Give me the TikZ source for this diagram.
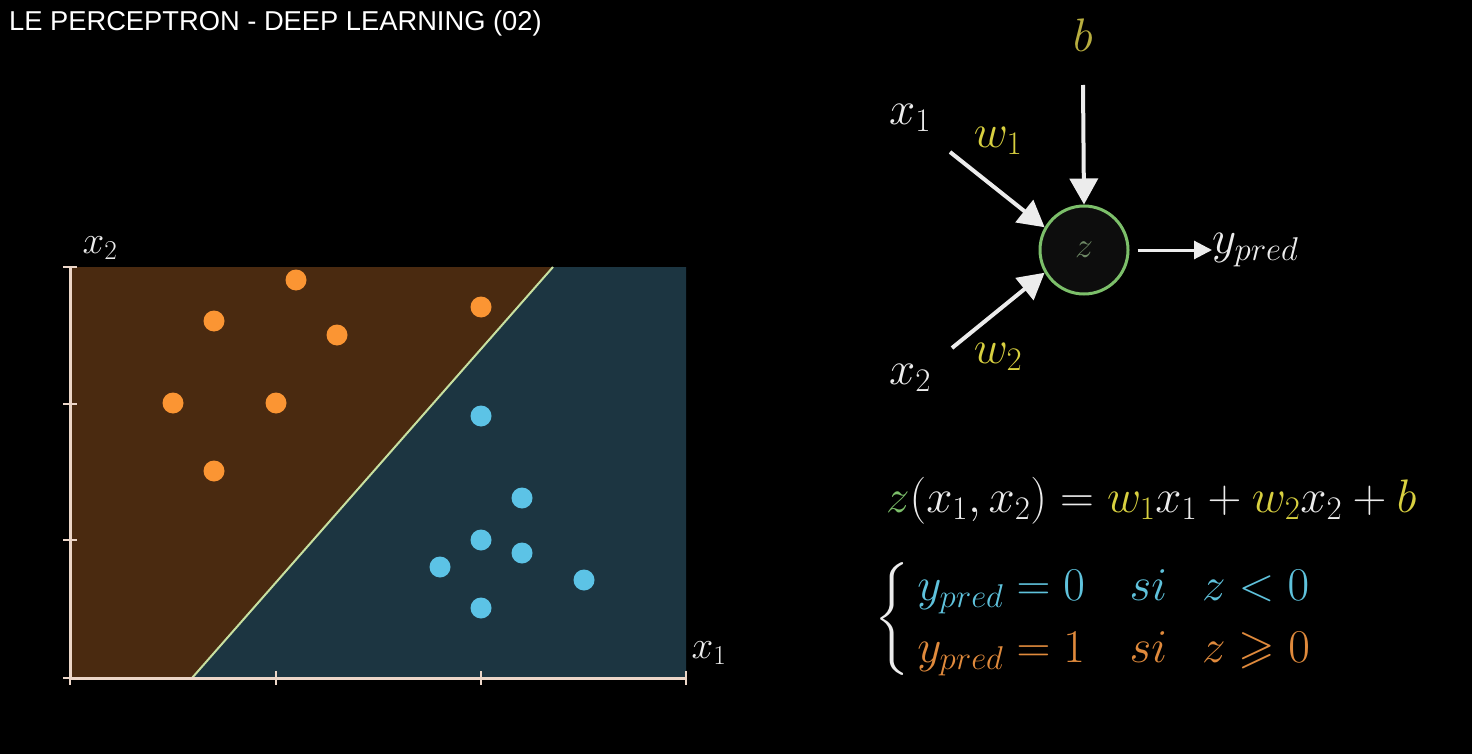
\RequirePackage{fix-cm}
\documentclass[tikz,border=0pt]{standalone}
\usepackage{amsmath,amssymb}
\usepackage{fontspec}
\setmainfont{Liberation Sans}
\usetikzlibrary{arrows.meta}
\definecolor{bg}{HTML}{000000}
\definecolor{offw}{HTML}{ECECEC}
\definecolor{ofill}{HTML}{4A2A10}
\definecolor{bfill}{HTML}{1C3541}
\definecolor{odot}{HTML}{FB9533}
\definecolor{bdot}{HTML}{5CC3E6}
\definecolor{axc}{HTML}{ECD6C8}
\definecolor{sepc}{HTML}{C8E0A0}
\definecolor{wyel}{HTML}{D8D040}
\definecolor{byel}{HTML}{B8AE40}
\definecolor{zgreen}{HTML}{7CBF6A}
\definecolor{zdim}{HTML}{6F8A66}
\definecolor{cblue}{HTML}{5FC2DC}
\definecolor{corange}{HTML}{E08A3C}
\tikzset{
  odotn/.style={circle,fill=odot,inner sep=0pt,minimum size=21pt},
  bdotn/.style={circle,fill=bdot,inner sep=0pt,minimum size=21pt},
  axis/.style={draw=axc,line width=3pt},
  tick/.style={draw=axc,line width=2.5pt},
  warrow/.style={draw=offw,line width=4pt,-{Triangle[length=26pt,width=28pt]}},
  mathlbl/.style={text=offw,font=\fontsize{47}{56}\selectfont,inner sep=0pt},
  plotlbl/.style={text=offw,font=\fontsize{39}{46}\selectfont,inner sep=0pt},
}
\begin{document}
\begin{tikzpicture}[x=1pt,y=-1pt]
\fill[bg] (0,0) rectangle (1472,754);
\useasboundingbox (0,0) rectangle (1472,754);
% title
\node[anchor=west,text=white,font=\fontsize{27.3}{32}\selectfont,inner sep=0pt] (title) at (9,23) {LE PERCEPTRON - DEEP LEARNING (02)};
% plot regions
\coordinate (bl) at (70,678);
\coordinate (tl) at (70,267);
\coordinate (tr) at (686,267);
\coordinate (br) at (686,678);
\coordinate (s1) at (192,678);
\coordinate (s2) at (553,267);
\fill[ofill] (bl) -- (tl) -- (s2) -- (s1) -- cycle;
\fill[bfill] (s1) -- (s2) -- (tr) -- (br) -- cycle;
\draw[sepc,line width=2pt] (s1) -- (s2);
% axes
\draw[axis] (tl) -- (bl) -- (br);
\foreach \y in {267,404,540,678} \draw[tick] (63,\y) -- (77,\y);
\foreach \x in {70,276,481,686} \draw[tick] (\x,671) -- (\x,685);
\node[plotlbl] (lx2) at (100,248) {$x_2$};
\node[plotlbl] (lx1) at (709,653) {$x_1$};
% dots
\node[odotn] (o1) at (296,280) {};
\node[odotn] (o2) at (214,321) {};
\node[odotn] (o3) at (337,335) {};
\node[odotn] (o4) at (481,307) {};
\node[odotn] (o5) at (173,403) {};
\node[odotn] (o6) at (276,403) {};
\node[odotn] (o7) at (214,471) {};
\node[bdotn] (b1) at (481,416) {};
\node[bdotn] (b2) at (522,498) {};
\node[bdotn] (b3) at (481,540) {};
\node[bdotn] (b4) at (522,553) {};
\node[bdotn] (b5) at (440,567) {};
\node[bdotn] (b6) at (584,580) {};
\node[bdotn] (b7) at (481,608) {};
% perceptron
\node[circle,draw=zgreen,line width=3pt,fill=black!95!white,minimum size=88pt,inner sep=0pt,text=zdim,font=\fontsize{36}{42}\selectfont] (z) at (1084,250) {$z$};
\node[mathlbl] (x1) at (910,118) {$x_1$};
\node[mathlbl] (x2) at (910,378) {$x_2$};
\node[mathlbl,text=byel] (b) at (1083,35) {$b$};
\node[mathlbl,text=wyel] (w1) at (998,141) {$w_1$};
\node[mathlbl,text=wyel] (w2) at (998,357) {$w_2$};
\node[mathlbl,anchor=west] (yp) at (1212,250) {$y_{pred}$};
\coordinate (a1s) at (950,152);
\coordinate (a2s) at (952,348);
\coordinate (abs) at (1083,85);
\draw[warrow] (a1s) -- (z.150);
\draw[warrow] (a2s) -- (z.210);
\draw[warrow] (abs) -- (z.north);
\draw[warrow,line width=3pt,-{Triangle[length=18pt,width=18pt]}] (z.east) ++(8,0) coordinate (ys) (ys) -- (yp.west);
% formula
\node[mathlbl,anchor=west] (eq) at (886,501) {$\color{zgreen}z\color{offw}(x_1,x_2)=\color{wyel}w_1\color{offw}x_1+\color{wyel}w_2\color{offw}x_2+\color{wyel}b$};
\node[mathlbl,anchor=west] (cases) at (874,619) {$\delimiterfactor=700\delimitershortfall=40pt\left\{\,\renewcommand{\arraystretch}{1.1}\begin{array}{@{}l@{}}
\color{cblue}y_{pred}=0\hspace{0.95em}si\hspace{0.75em}z<0\\
\color{corange}y_{pred}=1\hspace{0.95em}si\hspace{0.75em}z\geqslant0
\end{array}\right.$};
\end{tikzpicture}
\end{document}
